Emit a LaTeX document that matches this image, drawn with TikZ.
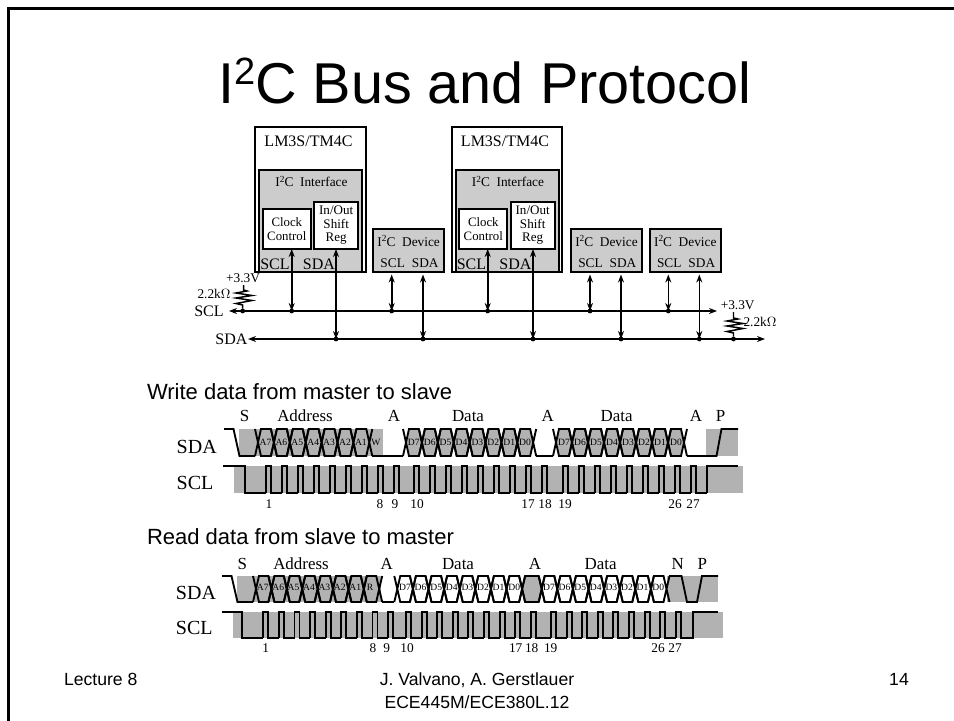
\documentclass[tikz,border=0pt]{standalone}
\usepackage{fontspec}
\setmainfont{Liberation Serif}
\newfontfamily\arial{Liberation Sans}
\usetikzlibrary{arrows.meta}
\newcommand{\fs}[1]{\fontsize{#1}{#1}\selectfont}
\newcommand{\iic}[1]{I\raisebox{0.36em}{\fs{7}2}C\ \ #1}
\tikzset{
  x=0.75pt,y=-0.75pt,
  every node/.style={inner sep=0pt,outer sep=0pt,align=center},
  frameline/.style={line width=1.7pt},
  chip/.style={draw,line width=1.5pt,fill=white},
  iface/.style={draw,line width=1.5pt,fill=gray!40!white},
  inner/.style={draw,line width=1.5pt,fill=white},
  devbox/.style={draw,line width=1.5pt,fill=gray!40!white},
  busline/.style={line width=1.2pt,-{Stealth[length=6pt,width=4.5pt]}},
  tap/.style={line width=1.2pt,{Stealth[length=6pt,width=4.5pt]}-{Stealth[length=6pt,width=4.5pt]}},
  dot/.style={circle,fill=black,minimum size=3.6pt},
  wave/.style={line width=1.4pt,line join=miter},
  shade/.style={fill=black!30,draw=none},
  cell/.style={font=\fs{7.2}},
  head/.style={font=\arial\fs{16.5}},
  foot/.style={font=\arial\fs{13.2}},
  sig/.style={font=\fs{15}},
  tlab/.style={font=\fs{12.7},anchor=base},
  nlab/.style={font=\fs{10}},
}
% #1 start x, #2 period, #3 count, #4 y high, #5 y low : hexagonal data cells
\newcommand{\cells}[5]{%
  \foreach \k in {1,...,#3}{%
    \pgfmathsetmacro{\xa}{#1+(\k-1)*#2}%
    \pgfmathsetmacro{\xb}{\xa+#2}%
    \draw[wave] (\xa-3,#4) -- (\xa+3,#5) -- (\xb-3,#5) -- (\xb+3,#4) (\xa-3,#5) -- (\xa+3,#4) -- (\xb-3,#4) -- (\xb+3,#5);
  }%
}
% the same cells as filled hexagons
\newcommand{\hexfill}[5]{%
  \foreach \k in {1,...,#3}{%
    \pgfmathsetmacro{\xa}{#1+(\k-1)*#2}%
    \pgfmathsetmacro{\xb}{\xa+#2}%
    \fill[shade] (\xa,{(#4+#5)/2}) -- (\xa+3,#4) -- (\xb-3,#4) -- (\xb,{(#4+#5)/2}) -- (\xb-3,#5) -- (\xa+3,#5) -- cycle;
  }%
}
% #1 start x, #2 period, #3 count, #4 y high, #5 y low, #6 pulse width : clock pulses
\newcommand{\pulses}[6]{%
  \foreach \k in {1,...,#3}{%
    \pgfmathsetmacro{\xa}{#1+(\k-1)*#2}%
    \draw[wave] (\xa,#5) -- (\xa,#4) -- (\xa+#6,#4) -- (\xa+#6,#5) -- (\xa+#2,#5);
  }%
}
\begin{document}
\begin{tikzpicture}
\useasboundingbox (0,0) rectangle (954,721);
\draw[frameline] (8.5,721) -- (8.5,8.5) -- (954,8.5);

% title and headings
\node[font=\arial\fs{43.2},anchor=base west] (title) at (218,103) {I\raisebox{13.5pt}{\fs{28.5}2}C Bus and Protocol};
\node[head,anchor=west] (hw) at (147,392) {Write data from master to slave};
\node[head,anchor=west] (hr) at (147,537) {Read data from slave to master};
\node[foot,anchor=west] (fl) at (64,679) {Lecture 8};
\node[foot] (fm) at (477,680) {J. Valvano, A. Gerstlauer};
\node[foot] (fb) at (477,702) {ECE445M/ECE380L.12};
\node[foot] (fp) at (899,679) {14};

% chips
\foreach \n/\d in {a/0,b/196.5}{
  \draw[chip] (255+\d,127) rectangle (365.5+\d,271.5);
  \node[font=\fs{12}] (lm\n) at (308.5+\d,141.5) {LM3S/TM4C};
  \draw[iface] (259+\d,170) rectangle (362.3+\d,271.5);
  \node[font=\fs{10}] (if\n) at (311.5+\d,181.5) {\iic{Interface}};
  \node[inner,minimum width=36pt,minimum height=30pt] (clk\n) at (286.8+\d,229) {};
  \node[font=\fs{9.6}] at (286.8+\d,229) {Clock\\[0.5pt]Control};
  \node[inner,minimum width=33.2pt,minimum height=35.5pt] (reg\n) at (336.2+\d,225.3) {};
  \node[font=\fs{9.8}] at (336.2+\d,225.3) {In/Out\\[0.2pt]Shift\\[0.2pt]Reg};
  \node[font=\fs{12}] (scl\n) at (275+\d,264) {SCL};
  \node[font=\fs{12}] (sda\n) at (319+\d,264) {SDA};
}
% devices
\foreach \n/\x in {c/408.7,d/606.5,e/685.3}{
  \node[devbox,minimum width=53.5pt,minimum height=32pt] (dev\n) at (\x,250.3) {};
  \node[font=\fs{10}] at (\x,240.7) {\iic{Device}};
  \node[font=\fs{10}] at (\x-16,263) {SCL};
  \node[font=\fs{10}] at (\x+16.5,263) {SDA};
}

% buses
\coordinate (sclL) at (229,311); \coordinate (sclR) at (717,311);
\coordinate (sdaL) at (248,339); \coordinate (sdaR) at (765,339);
\draw[busline] (242.7,311) -- (sclL);
\draw[busline] (242.7,311) -- (sclR);
\draw[busline] (733.5,339) -- (sdaL);
\draw[busline] (733.5,339) -- (sdaR);
\node[font=\fs{12}] (lscl) at (209,311) {SCL};
\node[font=\fs{12},anchor=east] (lsda) at (247.5,339) {SDA};

% taps to the chips
\foreach \n/\xa/\xb in {a/291.7/336,b/487.7/533}{
  \coordinate (ta\n) at (\xa,311); \coordinate (tb\n) at (\xb,339);
  \coordinate (ua\n) at (\xa,249); \coordinate (ub\n) at (\xb,249);
  \draw[tap] (ua\n) -- (ta\n);
  \draw[tap] (ub\n) -- (tb\n);
  \node[dot] at (ta\n) {};
  \node[dot] at (tb\n) {};
}
% taps to the devices
\foreach \n/\xa/\xb in {c/391.7/423,d/590/621,e/668.3/699.3}{
  \coordinate (ta\n) at (\xa,311); \coordinate (tb\n) at (\xb,339);
  \coordinate (ua\n) at (\xa,274.5); \coordinate (ub\n) at (\xb,274.5);
  \draw[tap] (ua\n) -- (ta\n);
  \draw[tap] (ub\n) -- (tb\n);
  \node[dot] at (ta\n) {};
  \node[dot] at (tb\n) {};
}

% pull-ups
\node[dot] (pl) at (242.7,311) {};
\node[dot] (pr) at (733.5,339) {};
\draw[line width=1.1pt] (pl) -- (242.7,305) -- (236,303.5) -- (252,300.5) -- (236,298) -- (252,295.5) -- (236,293) -- (247,291) -- (243.7,290) -- (243.7,285);
\draw[line width=1.1pt] (pr) -- (733.5,333) -- (727,331.5) -- (743,328.5) -- (727,326) -- (743,323.5) -- (727,321) -- (738,319) -- (733.5,318) -- (733.5,312);
\node[font=\fs{10}] (vl) at (243,278) {+3.3V};
\node[font=\fs{10}] (rl) at (214,294) {2.2k$\Omega$};
\node[font=\fs{10}] (vr) at (737.7,305) {+3.3V};
\node[font=\fs{10}] (rr) at (760,322) {2.2k$\Omega$};

% ---------- write timing
\fill[shade] (239,429) rectangle (383,456);
\hexfill{406}{15.9}{8}{429}{456}
\hexfill{556}{16}{8}{429}{456}
\fill[shade] (706,429) rectangle (738,456);
\fill[shade] (234,466) rectangle (743,493);
\node[sig] at (196.7,446.7) {SDA};
\node[sig] at (195,483) {SCL};
\draw[wave] (224,429) -- (233.5,429) -- (239.5,456) -- (255,456);
\cells{258}{15.9}{7}{429}{456}
\draw[wave] (372.3,456) -- (403,456);
\cells{406}{15.9}{8}{429}{456}
\draw[wave] (536,456) -- (553,456);
\cells{556}{16}{8}{429}{456}
\draw[wave] (687,456) -- (716.5,456) -- (721.5,429) -- (738,429);
\draw[wave] (223,466) -- (245,466) -- (245,493) -- (266,493);
\pulses{266}{16}{9}{466}{493}{5}
\draw[wave] (410,493) -- (414,493);
\pulses{414}{16}{8}{466}{493}{5}
\pulses{542}{21}{1}{466}{493}{5}
\pulses{563}{16}{9}{466}{493}{5}
\draw[wave] (707,493) -- (707,466) -- (738,466);
\foreach \t/\x in {S/244.7,Address/305,A/394,Data/468,A/547.7,Data/616.7,A/696,P/720.7}{
  \node[tlab] at (\x,421.5) {\t};
}
\foreach \t/\x in {1/269,8/380,9/395,10/417,17/528,18/545,19/565,26/675,27/693}{
  \node[nlab] at (\x,504) {\t};
}
\foreach \t [count=\i from 0] in {A7,A6,A5,A4,A3,A2,A1}{
  \node[cell] at (265.5+\i*15.9,442) {\t};
}
\node[cell] at (376,442) {W};
\foreach \t [count=\i from 0] in {D7,D6,D5,D4,D3,D2,D1,D0}{
  \node[cell] at (413.8+\i*15.9,442) {\t};
  \node[cell] at (564+\i*16,442) {\t};
}

% ---------- read timing
\fill[shade] (237,576) rectangle (381,602);
\fill[shade] (667,576) rectangle (718,602);
\hexfill{522}{19.7}{1}{576}{602}
\fill[shade] (232.5,612) rectangle (723,638);
\node[sig] at (196,592.7) {SDA};
\node[sig] at (194.3,628) {SCL};
\draw[wave] (222,576) -- (231.5,576) -- (237.5,602) -- (253,602);
\cells{256}{15.4}{8}{576}{602}
\draw[wave] (382,602) -- (394.3,602);
\cells{397.3}{15.6}{8}{576}{602}
\cells{522.1}{19.6}{1}{576}{602}
\cells{541.7}{15.6}{8}{576}{602}
\draw[wave] (669,576) -- (681.5,576) -- (687,602) -- (697,602) -- (702,576) -- (718,576);
\draw[wave] (222,612) -- (241.7,612) -- (241.7,638) -- (263.3,638);
\pulses{263.3}{15.6}{9}{612}{638}{5}
\draw[wave] (403.7,638) -- (406,638);
\pulses{406}{15.6}{8}{612}{638}{5}
\pulses{530.8}{20.2}{1}{612}{638}{5}
\pulses{551}{15.6}{9}{612}{638}{5}
\draw[wave] (691.4,638) -- (692.7,638) -- (692.7,612) -- (718,612);
\foreach \t/\x in {S/242.3,Address/301,A/386.7,Data/458,A/535,Data/600.7,N/677.7,P/702.3}{
  \node[tlab] at (\x,569.5) {\t};
}
\foreach \t/\x in {1/265.7,8/373,9/386.7,10/407,17/515.7,18/531.7,19/550.7,26/658,27/675}{
  \node[nlab] at (\x,648) {\t};
}
\foreach \t [count=\i from 0] in {A7,A6,A5,A4,A3,A2,A1}{
  \node[cell] at (262.8+\i*15.4,587.7) {\t};
}
\node[cell] at (370,587.7) {R};
\foreach \t [count=\i from 0] in {D7,D6,D5,D4,D3,D2,D1,D0}{
  \node[cell] at (405+\i*15.6,587.7) {\t};
  \node[cell] at (549+\i*15.6,587.7) {\t};
}
\end{tikzpicture}
\end{document}
